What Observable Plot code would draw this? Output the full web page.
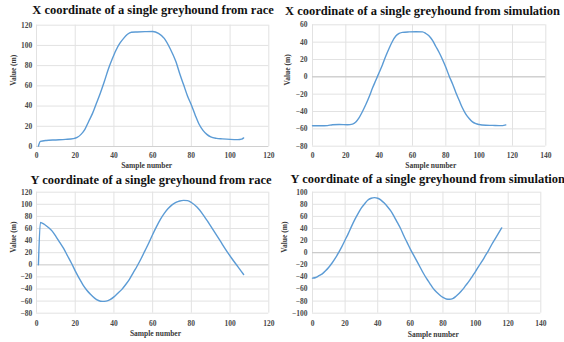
<!DOCTYPE html>
<html>
<head>
<meta charset="utf-8">
<script src="https://cdn.jsdelivr.net/npm/d3@7"></script>
<script src="https://cdn.jsdelivr.net/npm/@observablehq/plot@0.6"></script>
<style>
  html, body { margin: 0; padding: 0; background: #fff; overflow: hidden; }
  #root { position: relative; width: 564px; height: 342px; overflow: hidden; }
  .panel { position: absolute; width: 282px; height: 171px; }
  .panel svg { position: absolute; left: 0; top: 0; overflow: visible; }
  .title { position: absolute; width: 400px; text-align: center; white-space: nowrap;
    font-family: "Liberation Serif", "Times New Roman", serif; font-weight: bold;
    font-size: 12.5px; line-height: 12.5px; color: #111; }
</style>
</head>
<body>
<div id="root"></div>
<script>
// ---- Data ----
const titles = [
  "X coordinate of a single greyhound from race",
  "X coordinate of a single greyhound from simulation",
  "Y coordinate of a single greyhound from race",
  "Y coordinate of a single greyhound from simulation"
];
const xLabel = "Sample number";
const yLabel = "Value (m)";

const xRaceSample = [1, 2, 5, 10, 15, 19, 21, 23, 25, 27, 29, 31, 33, 35, 37, 39, 41, 43, 45, 47, 49, 52, 56, 60, 63, 66, 69, 72, 74, 76, 78, 80, 82, 84, 86, 88, 90, 93, 96, 100, 104, 106, 107];
const xRaceValue  = [0.5, 5, 6, 6.5, 7, 7.8, 9, 12, 17, 25, 33, 43, 53, 64, 76, 86, 95, 102, 107, 111, 113, 113.3, 113.6, 113.8, 112, 107, 97, 84, 72, 61, 50, 41, 31, 22, 16, 12, 9.5, 8, 7.5, 7, 6.8, 7.3, 8.5];

const xSimSample = [0, 5, 9, 12, 16, 21, 24, 26, 28, 30, 32, 34, 36, 38, 40, 42, 44, 46, 48, 50, 52, 54, 58, 62, 66, 68, 70, 72, 74, 76, 78, 80, 82, 84, 86, 88, 90, 92, 94, 96, 98, 100, 104, 108, 112, 114, 116];
const xSimValue  = [-56.5, -56.5, -56.3, -55.2, -55, -55.2, -54.5, -52, -47, -40, -32, -23, -13, -4, 5, 14, 24, 33, 41, 47, 50, 51.3, 51.8, 52, 51.8, 50, 47, 42, 35, 28, 20, 11, 1, -8, -18, -27, -36, -43, -48, -52, -54, -55, -55.8, -56, -56.3, -56.3, -55.5];

const yRaceSample = [1, 2, 4, 6, 8, 10, 12, 14, 16, 18, 20, 22, 24, 26, 28, 30, 32, 34, 36, 38, 40, 42, 44, 46, 48, 50, 52, 54, 56, 58, 60, 62, 64, 66, 68, 70, 72, 74, 76, 78, 80, 83, 86, 89, 92, 95, 98, 101, 104, 107];
const yRaceValue  = [0, 70, 67, 62, 56, 47, 37, 27, 15, 3, -10, -22, -33, -42, -49, -55, -59, -60.5, -60, -57.5, -53, -47, -41, -33, -24, -13, -2, 10, 23, 36, 50, 63, 75, 85, 93, 99, 103, 105.5, 106.5, 106, 103, 95, 83, 69, 54, 39, 24, 10, -3, -16];

const ySimSample = [0, 2, 4, 6, 8, 10, 12, 14, 16, 18, 20, 22, 24, 26, 28, 30, 32, 34, 36, 38, 40, 42, 44, 46, 48, 50, 52, 54, 56, 58, 60, 62, 64, 66, 68, 70, 72, 74, 76, 78, 80, 82, 84, 86, 88, 90, 92, 94, 96, 98, 100, 102, 104, 106, 108, 110, 112, 114, 116];
const ySimValue  = [-42, -41, -38, -35, -30, -24, -17, -9, 0, 10, 21, 32, 44, 55, 65, 74, 81, 87, 90, 91, 90, 87, 82, 76, 69, 60, 50, 40, 28, 17, 6, -4, -14, -24, -34, -43, -51, -59, -65, -70, -74, -76.5, -77, -76, -72, -67, -61, -54, -47, -39, -31, -22, -14, -5, 4, 14, 23, 32, 41];

const xTicks120 = [0, 20, 40, 60, 80, 100, 120];
const xTicks140 = [0, 20, 40, 60, 80, 100, 120, 140];
const yTicksXRace = [0, 20, 40, 60, 80, 100, 120];
const yTicksXSim = [-80, -60, -40, -20, 0, 20, 40, 60];
const yTicksYRace = [-80, -60, -40, -20, 0, 20, 40, 60, 80, 100, 120];
const yTicksYSim = [-100, -80, -60, -40, -20, 0, 20, 40, 60, 80, 100];

// ---- Layout ----
const panels = [
  {left: 0, top: 0, title: titles[0], titleCx: 153, titleTop: 3.7, sample: xRaceSample, value: xRaceValue,
   xTicks: xTicks120, yTicks: yTicksXRace, m: [24.7, 13.7, 25, 36], xPad: 6, yPad: 4.3, lx: -6, ly: 21.5, vx: -23, zero: "#d0d0d0"},
  {left: 282, top: 0, title: titles[1], titleCx: 140.5, titleTop: 4.5, sample: xSimSample, value: xSimValue,
   xTicks: xTicks140, yTicks: yTicksXSim, m: [24.3, 18.7, 25.3, 30], xPad: 6, yPad: 5, lx: 1.6, ly: 21.5, vx: -25, zero: "#c4c4c4"},
  {left: 0, top: 171, title: titles[2], titleCx: 151, titleTop: 2.9, sample: yRaceSample, value: yRaceValue,
   xTicks: xTicks120, yTicks: yTicksYRace, m: [20.7, 13.7, 29.3, 36], xPad: 7.5, yPad: 4.3, lx: 2.8, ly: 23, vx: -22.7, zero: "#d4d4d4"},
  {left: 282, top: 171, title: titles[3], titleCx: 145.8, titleTop: 2, sample: ySimSample, value: ySimValue,
   xTicks: xTicks140, yTicks: yTicksYSim, m: [20.7, 23.7, 29.3, 30], xPad: 7.5, yPad: 5, lx: 6.6, ly: 23.3, vx: -28, zero: "#c4c4c4"}
];

const root = document.getElementById("root");
const font = "'Liberation Serif', 'Times New Roman', serif";

for (const p of panels) {
  const div = document.createElement("div");
  div.className = "panel";
  div.style.left = p.left + "px";
  div.style.top = p.top + "px";
  const data = p.sample.map((s, i) => ({s, v: p.value[i]}));
  const xd = [p.xTicks[0], p.xTicks[p.xTicks.length - 1]];
  const yd = [p.yTicks[0], p.yTicks[p.yTicks.length - 1]];
  const chart = Plot.plot({
    width: 282, height: 171,
    marginTop: p.m[0], marginRight: p.m[1], marginBottom: p.m[2], marginLeft: p.m[3],
    style: {background: "transparent", overflow: "visible", fontFamily: font, fontSize: "7.5px", fontWeight: "bold", color: "#4a4a4a"},
    x: {domain: xd, ticks: p.xTicks, tickSize: 0, tickPadding: p.xPad, label: null},
    y: {domain: yd, ticks: p.yTicks, tickSize: 0, tickPadding: p.yPad, label: null},
    marks: [
      Plot.ruleX(p.xTicks, {stroke: "#e2e2e2", strokeWidth: 1}),
      Plot.ruleY(p.yTicks, {stroke: "#e2e2e2", strokeWidth: 1}),
      Plot.ruleY([0], {stroke: p.zero, strokeWidth: 1}),
      Plot.line(data, {x: "s", y: "v", stroke: "#5b9bd5", strokeWidth: 1.4, curve: "monotone-x"}),
      Plot.text([xLabel], {frameAnchor: "bottom", dx: p.lx, dy: p.ly, fill: "#3a3a3a", fontSize: 7.5, fontWeight: "bold", fontFamily: font}),
      Plot.text([yLabel], {frameAnchor: "left", dx: p.vx, rotate: -90, fill: "#3a3a3a", fontSize: 7.5, fontWeight: "bold", fontFamily: font})
    ]
  });
  div.appendChild(chart);
  const t = document.createElement("div");
  t.className = "title";
  t.textContent = p.title;
  t.style.left = (p.titleCx - 200) + "px";
  t.style.top = p.titleTop + "px";
  div.appendChild(t);
  root.appendChild(div);
}
</script>
</body>
</html>
